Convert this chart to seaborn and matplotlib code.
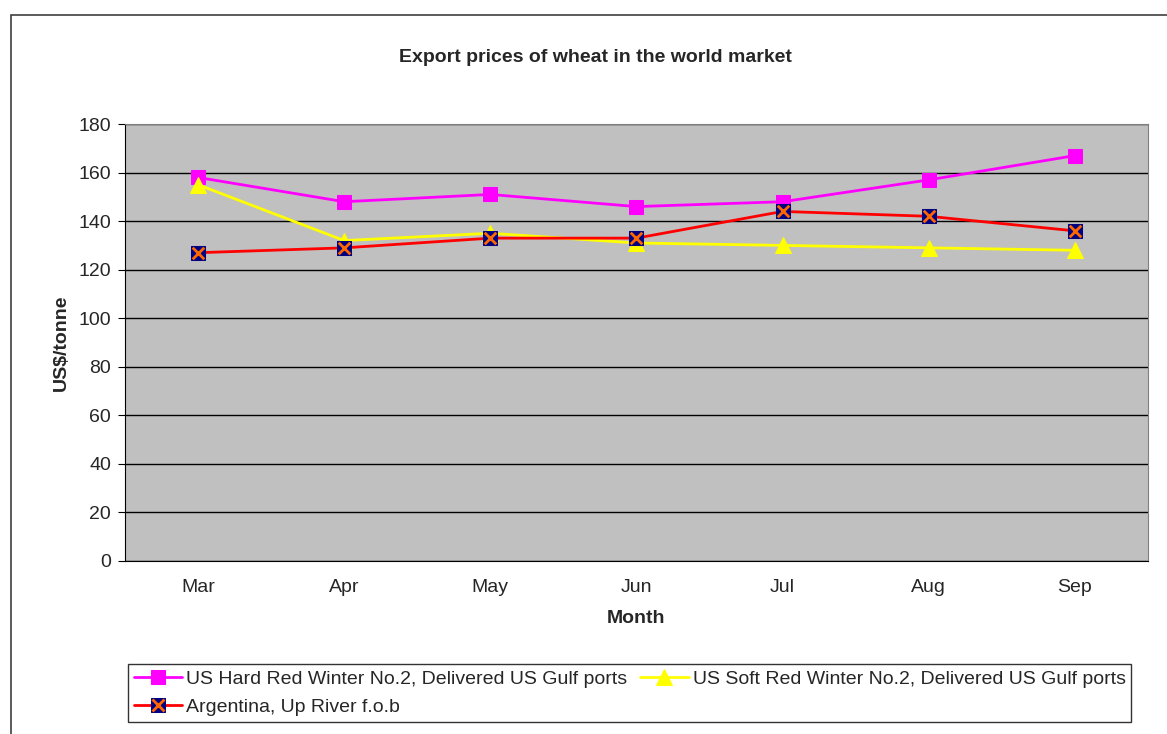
import matplotlib.pyplot as plt
import matplotlib.patches as mpatches
import pandas as pd
import seaborn as sns
from matplotlib.legend_handler import HandlerTuple
from matplotlib.ticker import FixedLocator, MultipleLocator

months = ["Mar", "Apr", "May", "Jun", "Jul", "Aug", "Sep"]
hrw = [158, 148, 151, 146, 148, 157, 167]
srw = [155, 132, 135, 131, 130, 129, 128]
argentina = [127, 129, 133, 133, 144, 142, 136]

label_hrw = "US Hard Red Winter No.2, Delivered US Gulf ports"
label_srw = "US Soft Red Winter No.2, Delivered US Gulf ports"
label_arg = "Argentina, Up River f.o.b"

sns.set_style("white")
plt.rcParams["font.family"] = ["Liberation Sans", "DejaVu Sans"]

pos = list(range(len(months)))
df = pd.DataFrame({"pos": pos, "hrw": hrw, "srw": srw, "arg": argentina})

fig = plt.figure(figsize=(11.67, 7.34), dpi=100)
ax = fig.add_axes([0.1071, 0.2357, 0.8766, 0.5953])
ax.set_facecolor("#C0C0C0")

# marco exterior del gráfico (estilo Excel)
fig.patches.append(mpatches.Rectangle((11 / 1167, -0.01), 1.0, (734 - 15) / 734 + 0.01,
                                      transform=fig.transFigure, fill=False,
                                      edgecolor="#404040", lw=1.2))

sns.lineplot(data=df, x="pos", y="hrw", ax=ax, color="#FF00FF", lw=2, marker="s",
             markersize=10, markeredgecolor="#FF00FF", sort=False, zorder=3)
sns.lineplot(data=df, x="pos", y="srw", ax=ax, color="#FFFF00", lw=2, marker="^",
             markersize=11, markeredgecolor="#FFFF00", sort=False, zorder=3)
sns.lineplot(data=df, x="pos", y="arg", ax=ax, color="#FF0000", lw=2, marker="s",
             markersize=10, markerfacecolor="#000080", markeredgecolor="#000080",
             sort=False, zorder=4)
sns.scatterplot(data=df, x="pos", y="arg", ax=ax, marker="x", s=70, color="#FF6600",
                linewidth=2, zorder=5, legend=False)

lines = ax.get_lines()
h_hrw, h_srw, h_arg = lines[0], lines[1], lines[2]
x_handle = plt.Line2D([], [], ls="none", marker="x", color="#FF6600", markersize=8, mew=2)

ax.set_xlim(-0.5, len(months) - 0.5)
ax.set_ylim(0, 180)
ax.yaxis.set_major_locator(MultipleLocator(20))
ax.set_xticks(pos)
ax.set_xticklabels(months)
ax.xaxis.set_minor_locator(FixedLocator([p - 0.5 for p in range(len(months) + 1)]))
ax.tick_params(axis="x", which="major", length=0, labelsize=14, pad=13)
ax.tick_params(axis="x", which="minor", length=5, direction="out", color="black")
ax.tick_params(axis="y", which="major", length=5, direction="out", color="black",
               labelsize=14, left=True, pad=5)

ax.grid(axis="y", color="black", lw=1)
ax.set_axisbelow(True)
for side in ["left", "bottom"]:
    ax.spines[side].set_color("black")
for side in ["top", "right"]:
    ax.spines[side].set_color("#808080")

ax.set_xlabel("Month", fontsize=14, fontweight="bold", labelpad=10)
ax.set_ylabel("US$/tonne", fontsize=14, fontweight="bold", labelpad=6)
fig.text(595 / 1167, 1 - 57 / 734, "Export prices of wheat in the world market",
         fontsize=14, fontweight="bold", ha="center", va="center")

leg = fig.legend([h_hrw, (h_arg, x_handle), h_srw], [label_hrw, label_arg, label_srw],
                 handler_map={tuple: HandlerTuple(ndivide=1)},
                 loc="lower left", bbox_to_anchor=(128 / 1167, (734 - 722) / 734),
                 ncol=2, fontsize=14, frameon=True, fancybox=False,
                 edgecolor="black", handlelength=2.5, handletextpad=0.2,
                 columnspacing=0.65, borderpad=0.3, labelspacing=0.55,
                 borderaxespad=0)
leg.get_frame().set_linewidth(1)

fig.savefig("out.png", dpi=100)
